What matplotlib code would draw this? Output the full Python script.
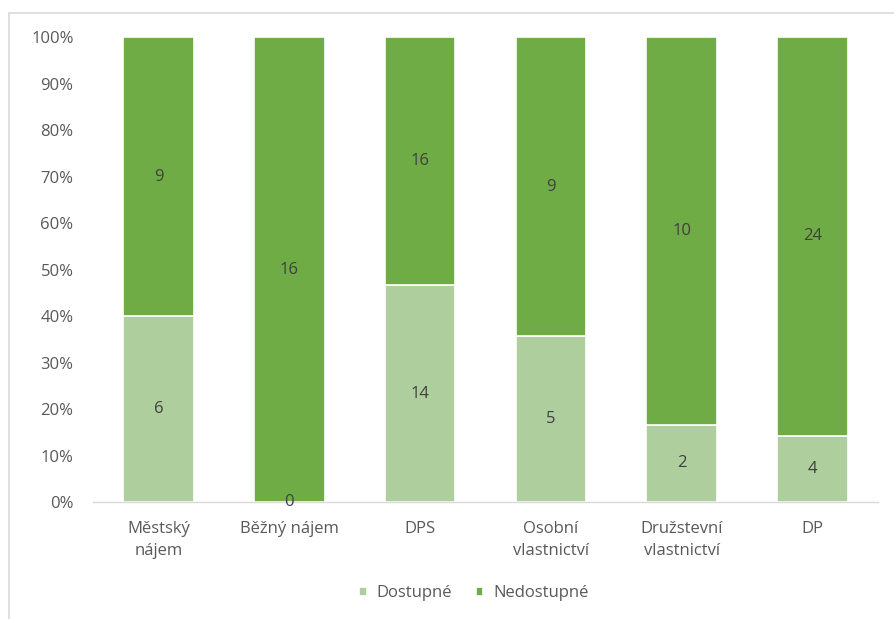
import matplotlib
matplotlib.use("Agg")
import matplotlib.pyplot as plt
from matplotlib.patches import Rectangle
import numpy as np

categories = ["Městský\nnájem", "Běžný nájem", "DPS", "Osobní\nvlastnictví",
              "Družstevní\nvlastnictví", "DP"]
dostupne = [6, 0, 14, 5, 2, 4]
nedostupne = [9, 16, 16, 9, 10, 24]
series_names = ["Dostupné", "Nedostupné"]
colors = ["#AECF9D", "#6FAC46"]

plt.rcParams['font.family'] = ['Open Sans', 'DejaVu Sans']

fig = plt.figure(figsize=(8.94, 6.19), dpi=100)
ax = fig.add_axes([0.104, 0.189, 0.878, 0.751])

# frame of the chart area (only left and top edges show in the reference)
fig.patches.append(Rectangle((0.010, -0.1), 1.2, 0.979 + 0.1, transform=fig.transFigure,
                             fill=False, edgecolor="#d9d9d9", linewidth=1.2))

x = np.arange(len(categories))
d = np.array(dostupne, dtype=float)
n = np.array(nedostupne, dtype=float)
total = d + n
d_pct = d / total * 100
n_pct = n / total * 100

width = 0.54
b1 = ax.bar(x, d_pct, width, color=colors[0], edgecolor="white", linewidth=1.2,
            label=series_names[0])
b2 = ax.bar(x, n_pct, width, bottom=d_pct, color=colors[1], edgecolor="white",
            linewidth=1.2, label=series_names[1])

for i in range(len(categories)):
    ax.text(x[i], d_pct[i] / 2, str(dostupne[i]), ha="center", va="center",
            fontsize=12, color="#404040")
    ax.text(x[i], d_pct[i] + n_pct[i] / 2, str(nedostupne[i]), ha="center",
            va="center", fontsize=12, color="#404040")

ax.set_xlim(-0.5, len(categories) - 0.5)
ax.set_ylim(0, 100)
ax.set_yticks(np.arange(0, 101, 10))
ax.set_yticklabels([f"{v}%" for v in range(0, 101, 10)])
ax.set_xticks(x)
ax.set_xticklabels(categories, linespacing=1.45)

for side in ["top", "right", "left"]:
    ax.spines[side].set_visible(False)
ax.spines["bottom"].set_color("#d9d9d9")
ax.spines["bottom"].set_linewidth(1.0)
ax.tick_params(axis="both", length=0, labelsize=12, labelcolor="#595959")
ax.tick_params(axis="y", pad=14)
ax.tick_params(axis="x", pad=14)

leg = fig.legend(handles=[b1, b2], labels=series_names, loc="center",
                 bbox_to_anchor=(0.53, 0.042), ncol=2, frameon=False,
                 fontsize=12, handlelength=0.45, handleheight=0.45,
                 handletextpad=0.6, columnspacing=1.4)
for t in leg.get_texts():
    t.set_color("#595959")

fig.savefig("out.png", dpi=100)
